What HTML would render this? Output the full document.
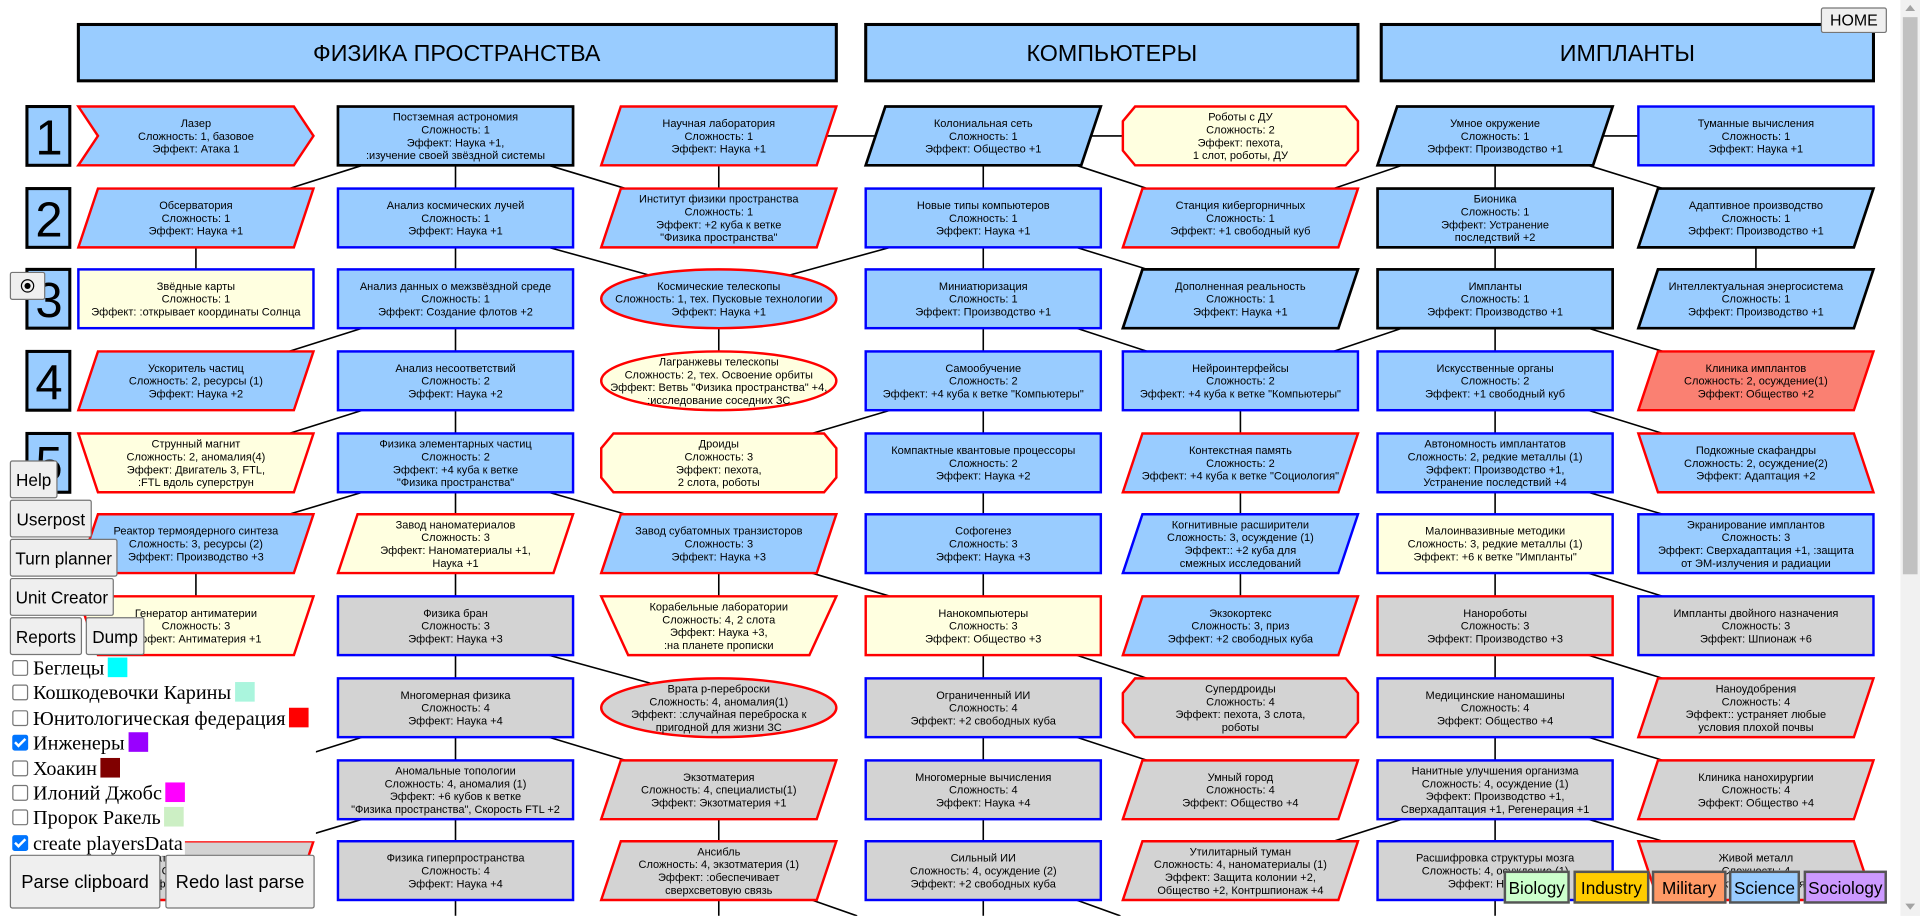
<!DOCTYPE html>
<html><head><meta charset="utf-8">
<style>
html,body{margin:0;padding:0;width:1920px;height:916px;overflow:hidden;background:#fff}
#w{position:absolute;left:0;top:0;width:1568px;height:748px;transform:scale(1.22449);transform-origin:0 0}
svg{position:absolute;left:0;top:0}
svg text{font-family:"Liberation Sans",sans-serif;font-size:9px;text-anchor:middle;fill:#000}
svg text.h{font-size:19px}
svg text.n{font-size:40px}
.b{fill:#99ccff}.c{fill:#ffffe0}.g{fill:#d3d3d3}.s{fill:#fa8072}
.R{stroke:#f00;stroke-width:2}.B{stroke:#00f;stroke-width:2}.K{stroke:#000;stroke-width:2.2}
line{stroke:#000;stroke-width:1.3}
.btn{position:absolute;background:#efefef;border:1px solid #767676;border-radius:2px;font-family:"Liberation Sans",sans-serif;font-size:14px;color:#000;box-sizing:border-box;display:flex;align-items:center;justify-content:center}
.cb{position:absolute;left:10px;font-family:"Liberation Serif",serif;font-size:16.5px;height:20px;line-height:20px;white-space:nowrap}
.cb i{display:inline-block;width:11px;height:11px;border:1px solid #767676;border-radius:2px;vertical-align:-1px;margin-right:4px;background:#fff}
.cb i.k{background:#0075ff;border-color:#0075ff;position:relative}
.cb i.k:after{content:"";position:absolute;left:3px;top:0px;width:3px;height:7px;border:solid #fff;border-width:0 2px 2px 0;transform:rotate(45deg)}
.cb u{display:inline-block;width:16px;height:16px;vertical-align:-2px;margin-left:3px}
.cat{position:absolute;top:711px;height:27px;border:2px solid #555;box-sizing:border-box;font-family:"Liberation Sans",sans-serif;font-size:14px;display:flex;align-items:center;justify-content:center}
</style></head><body><div id="w">
<svg width="1568" height="748" viewBox="0 0 1568 748">
<rect x="64" y="20" width="619" height="46" class="b" stroke="#000" stroke-width="2.5"/>
<text class="h" x="373" y="50">ФИЗИКА ПРОСТРАНСТВА</text>
<rect x="707" y="20" width="402" height="46" class="b" stroke="#000" stroke-width="2.5"/>
<text class="h" x="908" y="50">КОМПЬЮТЕРЫ</text>
<rect x="1128" y="20" width="402" height="46" class="b" stroke="#000" stroke-width="2.5"/>
<text class="h" x="1329" y="50">ИМПЛАНТЫ</text>
<rect x="22" y="87" width="35" height="48" class="b" stroke="#000" stroke-width="2.5"/><text class="n" x="40" y="126">1</text>
<rect x="22" y="154" width="35" height="48" class="b" stroke="#000" stroke-width="2.5"/><text class="n" x="40" y="193">2</text>
<rect x="22" y="220" width="35" height="48" class="b" stroke="#000" stroke-width="2.5"/><text class="n" x="40" y="259">3</text>
<rect x="22" y="287" width="35" height="48" class="b" stroke="#000" stroke-width="2.5"/><text class="n" x="40" y="326">4</text>
<rect x="22" y="354" width="35" height="48" class="b" stroke="#000" stroke-width="2.5"/><text class="n" x="40" y="393">5</text>
<g>
<line x1="160" y1="202" x2="160" y2="220"/><line x1="160" y1="468" x2="160" y2="487"/>
<line x1="372" y1="135" x2="372" y2="154"/><line x1="372" y1="202" x2="372" y2="220"/><line x1="372" y1="268" x2="372" y2="287"/><line x1="372" y1="335" x2="372" y2="354"/><line x1="372" y1="402" x2="372" y2="420"/><line x1="372" y1="468" x2="372" y2="487"/><line x1="372" y1="535" x2="372" y2="554"/><line x1="372" y1="602" x2="372" y2="621"/><line x1="372" y1="669" x2="372" y2="687"/><line x1="372" y1="735" x2="372" y2="748"/>
<line x1="587" y1="135" x2="587" y2="154"/><line x1="587" y1="268" x2="587" y2="287"/><line x1="587" y1="468" x2="587" y2="487"/><line x1="587" y1="669" x2="587" y2="687"/><line x1="587" y1="735" x2="587" y2="748"/>
<line x1="803" y1="135" x2="803" y2="154"/><line x1="803" y1="202" x2="803" y2="220"/><line x1="803" y1="268" x2="803" y2="287"/><line x1="803" y1="335" x2="803" y2="354"/><line x1="803" y1="402" x2="803" y2="420"/><line x1="803" y1="468" x2="803" y2="487"/><line x1="803" y1="535" x2="803" y2="554"/><line x1="803" y1="602" x2="803" y2="621"/><line x1="803" y1="669" x2="803" y2="687"/><line x1="803" y1="735" x2="803" y2="748"/>
<line x1="1013" y1="335" x2="1013" y2="354"/><line x1="1013" y1="402" x2="1013" y2="420"/><line x1="1013" y1="468" x2="1013" y2="487"/>
<line x1="1221" y1="135" x2="1221" y2="154"/><line x1="1221" y1="202" x2="1221" y2="220"/><line x1="1221" y1="268" x2="1221" y2="287"/><line x1="1221" y1="335" x2="1221" y2="354"/><line x1="1221" y1="402" x2="1221" y2="420"/><line x1="1221" y1="468" x2="1221" y2="487"/><line x1="1221" y1="535" x2="1221" y2="554"/><line x1="1221" y1="602" x2="1221" y2="621"/><line x1="1221" y1="669" x2="1221" y2="687"/><line x1="1221" y1="735" x2="1221" y2="748"/>
<line x1="1434" y1="202" x2="1434" y2="220"/>
<line x1="675" y1="111" x2="715" y2="111"/><line x1="891" y1="111" x2="917" y2="111"/><line x1="1309" y1="111" x2="1338" y2="111"/>
<line x1="296" y1="135" x2="236" y2="154"/><line x1="448" y1="135" x2="511" y2="154"/>
<line x1="448" y1="202" x2="535" y2="226"/><line x1="727" y1="202" x2="640" y2="226"/>
<line x1="296" y1="268" x2="236" y2="287"/><line x1="296" y1="335" x2="236" y2="354"/><line x1="296" y1="402" x2="236" y2="420"/><line x1="448" y1="402" x2="511" y2="420"/>
<line x1="727" y1="335" x2="663" y2="354"/><line x1="663" y1="468" x2="727" y2="487"/>
<line x1="448" y1="535" x2="535" y2="559"/><line x1="296" y1="602" x2="236" y2="621"/><line x1="448" y1="602" x2="511" y2="621"/><line x1="296" y1="669" x2="236" y2="687"/>
<line x1="663" y1="735" x2="700" y2="748"/>
<line x1="879" y1="135" x2="937" y2="154"/><line x1="879" y1="202" x2="937" y2="220"/><line x1="879" y1="268" x2="937" y2="287"/><line x1="879" y1="535" x2="937" y2="554"/><line x1="879" y1="602" x2="937" y2="621"/><line x1="879" y1="735" x2="915" y2="748"/>
<line x1="1145" y1="135" x2="1089" y2="154"/><line x1="1297" y1="135" x2="1358" y2="154"/>
<line x1="1145" y1="268" x2="1089" y2="287"/><line x1="1297" y1="268" x2="1358" y2="287"/>
<line x1="1297" y1="335" x2="1358" y2="354"/><line x1="1297" y1="402" x2="1358" y2="420"/><line x1="1297" y1="468" x2="1358" y2="487"/><line x1="1297" y1="535" x2="1358" y2="554"/><line x1="1297" y1="602" x2="1358" y2="621"/><line x1="1297" y1="669" x2="1358" y2="687"/>
<line x1="1145" y1="669" x2="1089" y2="687"/>
</g>
<polygon points="64,87 240,87 256,111 240,135 64,135 80,111" class="b R"/>
<text x="160" y="103.7"><tspan x="160">Лазер</tspan><tspan x="160" dy="10.5">Сложность: 1, базовое</tspan><tspan x="160" dy="10.5">Эффект: Атака 1</tspan></text>
<polygon points="80,154 256,154 240,202 64,202" class="b R"/>
<text x="160" y="170.7"><tspan x="160">Обсерватория</tspan><tspan x="160" dy="10.5">Сложность: 1</tspan><tspan x="160" dy="10.5">Эффект: Наука +1</tspan></text>
<rect x="64" y="220" width="192" height="48" class="c B"/>
<text x="160" y="236.7"><tspan x="160">Звёдные карты</tspan><tspan x="160" dy="10.5">Сложность: 1</tspan><tspan x="160" dy="10.5">Эффект: :открывает координаты Солнца</tspan></text>
<polygon points="80,287 256,287 240,335 64,335" class="b R"/>
<text x="160" y="303.7"><tspan x="160">Ускоритель частиц</tspan><tspan x="160" dy="10.5">Сложность: 2, ресурсы (1)</tspan><tspan x="160" dy="10.5">Эффект: Наука +2</tspan></text>
<polygon points="64,354 256,354 240,402 80,402" class="c R"/>
<text x="160" y="365.5"><tspan x="160">Струнный магнит</tspan><tspan x="160" dy="10.5">Сложность: 2, аномалия(4)</tspan><tspan x="160" dy="10.5">Эффект: Двигатель 3, FTL,</tspan><tspan x="160" dy="10.5">:FTL вдоль суперструн</tspan></text>
<polygon points="80,420 256,420 240,468 64,468" class="b R"/>
<text x="160" y="436.7"><tspan x="160">Реактор термоядерного синтеза</tspan><tspan x="160" dy="10.5">Сложность: 3, ресурсы (2)</tspan><tspan x="160" dy="10.5">Эффект: Производство +3</tspan></text>
<polygon points="64,487 256,487 240,535 80,535" class="c R"/>
<text x="160" y="503.7"><tspan x="160">Генератор антиматерии</tspan><tspan x="160" dy="10.5">Сложность: 3</tspan><tspan x="160" dy="10.5">Эффект: Антиматерия +1</tspan></text>
<polygon points="80,687 256,687 240,735 64,735" class="g R"/>
<text x="160" y="703.7"><tspan x="160">Сжатие пространства</tspan><tspan x="160" dy="10.5">Сложность: 4</tspan><tspan x="160" dy="10.5">Эффект: Наука +4</tspan></text>
<rect x="276" y="87" width="192" height="48" class="b K"/>
<text x="372" y="98.5"><tspan x="372">Постземная астрономия</tspan><tspan x="372" dy="10.5">Сложность: 1</tspan><tspan x="372" dy="10.5">Эффект: Наука +1,</tspan><tspan x="372" dy="10.5">:изучение своей звёздной системы</tspan></text>
<rect x="276" y="154" width="192" height="48" class="b B"/>
<text x="372" y="170.7"><tspan x="372">Анализ космических лучей</tspan><tspan x="372" dy="10.5">Сложность: 1</tspan><tspan x="372" dy="10.5">Эффект: Наука +1</tspan></text>
<rect x="276" y="220" width="192" height="48" class="b B"/>
<text x="372" y="236.7"><tspan x="372">Анализ данных о межзвёздной среде</tspan><tspan x="372" dy="10.5">Сложность: 1</tspan><tspan x="372" dy="10.5">Эффект: Создание флотов +2</tspan></text>
<rect x="276" y="287" width="192" height="48" class="b B"/>
<text x="372" y="303.7"><tspan x="372">Анализ несоответствий</tspan><tspan x="372" dy="10.5">Сложность: 2</tspan><tspan x="372" dy="10.5">Эффект: Наука +2</tspan></text>
<rect x="276" y="354" width="192" height="48" class="b B"/>
<text x="372" y="365.5"><tspan x="372">Физика элементарных частиц</tspan><tspan x="372" dy="10.5">Сложность: 2</tspan><tspan x="372" dy="10.5">Эффект: +4 куба к ветке</tspan><tspan x="372" dy="10.5">"Физика пространства"</tspan></text>
<polygon points="292,420 468,420 452,468 276,468" class="c R"/>
<text x="372" y="431.5"><tspan x="372">Завод наноматериалов</tspan><tspan x="372" dy="10.5">Сложность: 3</tspan><tspan x="372" dy="10.5">Эффект: Наноматериалы +1,</tspan><tspan x="372" dy="10.5">Наука +1</tspan></text>
<rect x="276" y="487" width="192" height="48" class="g B"/>
<text x="372" y="503.7"><tspan x="372">Физика бран</tspan><tspan x="372" dy="10.5">Сложность: 3</tspan><tspan x="372" dy="10.5">Эффект: Наука +3</tspan></text>
<rect x="276" y="554" width="192" height="48" class="g B"/>
<text x="372" y="570.7"><tspan x="372">Многомерная физика</tspan><tspan x="372" dy="10.5">Сложность: 4</tspan><tspan x="372" dy="10.5">Эффект: Наука +4</tspan></text>
<rect x="276" y="621" width="192" height="48" class="g B"/>
<text x="372" y="632.5"><tspan x="372">Аномальные топологии</tspan><tspan x="372" dy="10.5">Сложность: 4, аномалия (1)</tspan><tspan x="372" dy="10.5">Эффект: +6 кубов к ветке</tspan><tspan x="372" dy="10.5">"Физика пространства", Скорость FTL +2</tspan></text>
<rect x="276" y="687" width="192" height="48" class="g B"/>
<text x="372" y="703.7"><tspan x="372">Физика гиперпространства</tspan><tspan x="372" dy="10.5">Сложность: 4</tspan><tspan x="372" dy="10.5">Эффект: Наука +4</tspan></text>
<polygon points="507,87 683,87 667,135 491,135" class="b R"/>
<text x="587" y="103.7"><tspan x="587">Научная лаборатория</tspan><tspan x="587" dy="10.5">Сложность: 1</tspan><tspan x="587" dy="10.5">Эффект: Наука +1</tspan></text>
<polygon points="507,154 683,154 667,202 491,202" class="b R"/>
<text x="587" y="165.5"><tspan x="587">Институт физики пространства</tspan><tspan x="587" dy="10.5">Сложность: 1</tspan><tspan x="587" dy="10.5">Эффект: +2 куба к ветке</tspan><tspan x="587" dy="10.5">"Физика пространства"</tspan></text>
<ellipse cx="587" cy="244" rx="96" ry="24" class="b R"/>
<text x="587" y="236.7"><tspan x="587">Космические телескопы</tspan><tspan x="587" dy="10.5">Сложность: 1, тех. Пусковые технологии</tspan><tspan x="587" dy="10.5">Эффект: Наука +1</tspan></text>
<ellipse cx="587" cy="311" rx="96" ry="24" class="c R"/>
<text x="587" y="298.5"><tspan x="587">Лагранжевы телескопы</tspan><tspan x="587" dy="10.5">Сложность: 2, тех. Освоение орбиты</tspan><tspan x="587" dy="10.5">Эффект: Ветвь "Физика пространства" +4,</tspan><tspan x="587" dy="10.5">:исследование соседних ЗС</tspan></text>
<polygon points="501,354 673,354 683,366 683,390 673,402 501,402 491,390 491,366" class="c R"/>
<text x="587" y="365.5"><tspan x="587">Дроиды</tspan><tspan x="587" dy="10.5">Сложность: 3</tspan><tspan x="587" dy="10.5">Эффект: пехота,</tspan><tspan x="587" dy="10.5">2 слота, роботы</tspan></text>
<polygon points="507,420 683,420 667,468 491,468" class="b R"/>
<text x="587" y="436.7"><tspan x="587">Завод субатомных транзисторов</tspan><tspan x="587" dy="10.5">Сложность: 3</tspan><tspan x="587" dy="10.5">Эффект: Наука +3</tspan></text>
<polygon points="491,487 683,487 661,535 513,535" class="c R"/>
<text x="587" y="498.5"><tspan x="587">Корабельные лаборатории</tspan><tspan x="587" dy="10.5">Сложность: 4, 2 слота</tspan><tspan x="587" dy="10.5">Эффект: Наука +3,</tspan><tspan x="587" dy="10.5">:на планете прописки</tspan></text>
<ellipse cx="587" cy="578" rx="96" ry="24" class="g R"/>
<text x="587" y="565.5"><tspan x="587">Врата р-переброски</tspan><tspan x="587" dy="10.5">Сложность: 4, аномалия(1)</tspan><tspan x="587" dy="10.5">Эффект: :случайная переброска к</tspan><tspan x="587" dy="10.5">пригодной для жизни ЗС</tspan></text>
<polygon points="507,621 683,621 667,669 491,669" class="g R"/>
<text x="587" y="637.7"><tspan x="587">Экзотматерия</tspan><tspan x="587" dy="10.5">Сложность: 4, специалисты(1)</tspan><tspan x="587" dy="10.5">Эффект: Экзотматерия +1</tspan></text>
<polygon points="507,687 683,687 667,735 491,735" class="g R"/>
<text x="587" y="698.5"><tspan x="587">Ансибль</tspan><tspan x="587" dy="10.5">Сложность: 4, экзотматерия (1)</tspan><tspan x="587" dy="10.5">Эффект: :обеспечивает</tspan><tspan x="587" dy="10.5">сверхсветовую связь</tspan></text>
<polygon points="723,87 899,87 883,135 707,135" class="b K"/>
<text x="803" y="103.7"><tspan x="803">Колониальная сеть</tspan><tspan x="803" dy="10.5">Сложность: 1</tspan><tspan x="803" dy="10.5">Эффект: Общество +1</tspan></text>
<rect x="707" y="154" width="192" height="48" class="b B"/>
<text x="803" y="170.7"><tspan x="803">Новые типы компьютеров</tspan><tspan x="803" dy="10.5">Сложность: 1</tspan><tspan x="803" dy="10.5">Эффект: Наука +1</tspan></text>
<rect x="707" y="220" width="192" height="48" class="b B"/>
<text x="803" y="236.7"><tspan x="803">Миниатюризация</tspan><tspan x="803" dy="10.5">Сложность: 1</tspan><tspan x="803" dy="10.5">Эффект: Производство +1</tspan></text>
<rect x="707" y="287" width="192" height="48" class="b B"/>
<text x="803" y="303.7"><tspan x="803">Самообучение</tspan><tspan x="803" dy="10.5">Сложность: 2</tspan><tspan x="803" dy="10.5">Эффект: +4 куба к ветке "Компьютеры"</tspan></text>
<rect x="707" y="354" width="192" height="48" class="b B"/>
<text x="803" y="370.7"><tspan x="803">Компактные квантовые процессоры</tspan><tspan x="803" dy="10.5">Сложность: 2</tspan><tspan x="803" dy="10.5">Эффект: Наука +2</tspan></text>
<rect x="707" y="420" width="192" height="48" class="b B"/>
<text x="803" y="436.7"><tspan x="803">Софогенез</tspan><tspan x="803" dy="10.5">Сложность: 3</tspan><tspan x="803" dy="10.5">Эффект: Наука +3</tspan></text>
<rect x="707" y="487" width="192" height="48" class="c R"/>
<text x="803" y="503.7"><tspan x="803">Нанокомпьютеры</tspan><tspan x="803" dy="10.5">Сложность: 3</tspan><tspan x="803" dy="10.5">Эффект: Общество +3</tspan></text>
<rect x="707" y="554" width="192" height="48" class="g B"/>
<text x="803" y="570.7"><tspan x="803">Ограниченный ИИ</tspan><tspan x="803" dy="10.5">Сложность: 4</tspan><tspan x="803" dy="10.5">Эффект: +2 свободных куба</tspan></text>
<rect x="707" y="621" width="192" height="48" class="g B"/>
<text x="803" y="637.7"><tspan x="803">Многомерные вычисления</tspan><tspan x="803" dy="10.5">Сложность: 4</tspan><tspan x="803" dy="10.5">Эффект: Наука +4</tspan></text>
<rect x="707" y="687" width="192" height="48" class="g B"/>
<text x="803" y="703.7"><tspan x="803">Сильный ИИ</tspan><tspan x="803" dy="10.5">Сложность: 4, осуждение (2)</tspan><tspan x="803" dy="10.5">Эффект: +2 свободных куба</tspan></text>
<polygon points="927,87 1099,87 1109,99 1109,123 1099,135 927,135 917,123 917,99" class="c R"/>
<text x="1013" y="98.5"><tspan x="1013">Роботы с ДУ</tspan><tspan x="1013" dy="10.5">Сложность: 2</tspan><tspan x="1013" dy="10.5">Эффект: пехота,</tspan><tspan x="1013" dy="10.5">1 слот, роботы, ДУ</tspan></text>
<polygon points="933,154 1109,154 1093,202 917,202" class="b R"/>
<text x="1013" y="170.7"><tspan x="1013">Станция кибергорничных</tspan><tspan x="1013" dy="10.5">Сложность: 1</tspan><tspan x="1013" dy="10.5">Эффект: +1 свободный куб</tspan></text>
<polygon points="933,220 1109,220 1093,268 917,268" class="b K"/>
<text x="1013" y="236.7"><tspan x="1013">Дополненная реальность</tspan><tspan x="1013" dy="10.5">Сложность: 1</tspan><tspan x="1013" dy="10.5">Эффект: Наука +1</tspan></text>
<rect x="917" y="287" width="192" height="48" class="b B"/>
<text x="1013" y="303.7"><tspan x="1013">Нейроинтерфейсы</tspan><tspan x="1013" dy="10.5">Сложность: 2</tspan><tspan x="1013" dy="10.5">Эффект: +4 куба к ветке "Компьютеры"</tspan></text>
<polygon points="933,354 1109,354 1093,402 917,402" class="b R"/>
<text x="1013" y="370.7"><tspan x="1013">Контекстная память</tspan><tspan x="1013" dy="10.5">Сложность: 2</tspan><tspan x="1013" dy="10.5">Эффект: +4 куба к ветке "Социология"</tspan></text>
<polygon points="933,420 1109,420 1093,468 917,468" class="b B"/>
<text x="1013" y="431.5"><tspan x="1013">Когнитивные расширители</tspan><tspan x="1013" dy="10.5">Сложность: 3, осуждение (1)</tspan><tspan x="1013" dy="10.5">Эффект:: +2 куба для</tspan><tspan x="1013" dy="10.5">смежных исследований</tspan></text>
<polygon points="933,487 1109,487 1093,535 917,535" class="b R"/>
<text x="1013" y="503.7"><tspan x="1013">Экзокортекс</tspan><tspan x="1013" dy="10.5">Сложность: 3, приз</tspan><tspan x="1013" dy="10.5">Эффект: +2 свободных куба</tspan></text>
<polygon points="927,554 1099,554 1109,566 1109,590 1099,602 927,602 917,590 917,566" class="g R"/>
<text x="1013" y="565.5"><tspan x="1013">Супердроиды</tspan><tspan x="1013" dy="10.5">Сложность: 4</tspan><tspan x="1013" dy="10.5">Эффект: пехота, 3 слота,</tspan><tspan x="1013" dy="10.5">роботы</tspan></text>
<polygon points="933,621 1109,621 1093,669 917,669" class="g R"/>
<text x="1013" y="637.7"><tspan x="1013">Умный город</tspan><tspan x="1013" dy="10.5">Сложность: 4</tspan><tspan x="1013" dy="10.5">Эффект: Общество +4</tspan></text>
<polygon points="933,687 1109,687 1093,735 917,735" class="g R"/>
<text x="1013" y="698.5"><tspan x="1013">Утилитарный туман</tspan><tspan x="1013" dy="10.5">Сложность: 4, наноматериалы (1)</tspan><tspan x="1013" dy="10.5">Эффект: Защита колонии +2,</tspan><tspan x="1013" dy="10.5">Общество +2, Контршпионаж +4</tspan></text>
<polygon points="1141,87 1317,87 1301,135 1125,135" class="b K"/>
<text x="1221" y="103.7"><tspan x="1221">Умное окружение</tspan><tspan x="1221" dy="10.5">Сложность: 1</tspan><tspan x="1221" dy="10.5">Эффект: Производство +1</tspan></text>
<rect x="1125" y="154" width="192" height="48" class="b K"/>
<text x="1221" y="165.5"><tspan x="1221">Бионика</tspan><tspan x="1221" dy="10.5">Сложность: 1</tspan><tspan x="1221" dy="10.5">Эффект: Устранение</tspan><tspan x="1221" dy="10.5">последствий +2</tspan></text>
<rect x="1125" y="220" width="192" height="48" class="b K"/>
<text x="1221" y="236.7"><tspan x="1221">Импланты</tspan><tspan x="1221" dy="10.5">Сложность: 1</tspan><tspan x="1221" dy="10.5">Эффект: Производство +1</tspan></text>
<rect x="1125" y="287" width="192" height="48" class="b B"/>
<text x="1221" y="303.7"><tspan x="1221">Искусственные органы</tspan><tspan x="1221" dy="10.5">Сложность: 2</tspan><tspan x="1221" dy="10.5">Эффект: +1 свободный куб</tspan></text>
<rect x="1125" y="354" width="192" height="48" class="b B"/>
<text x="1221" y="365.5"><tspan x="1221">Автономность имплантатов</tspan><tspan x="1221" dy="10.5">Сложность: 2, редкие металлы (1)</tspan><tspan x="1221" dy="10.5">Эффект: Производство +1,</tspan><tspan x="1221" dy="10.5">Устранение последствий +4</tspan></text>
<rect x="1125" y="420" width="192" height="48" class="c B"/>
<text x="1221" y="436.7"><tspan x="1221">Малоинвазивные методики</tspan><tspan x="1221" dy="10.5">Сложность: 3, редкие металлы (1)</tspan><tspan x="1221" dy="10.5">Эффект: +6 к ветке "Импланты"</tspan></text>
<rect x="1125" y="487" width="192" height="48" class="g R"/>
<text x="1221" y="503.7"><tspan x="1221">Нанороботы</tspan><tspan x="1221" dy="10.5">Сложность: 3</tspan><tspan x="1221" dy="10.5">Эффект: Производство +3</tspan></text>
<rect x="1125" y="554" width="192" height="48" class="g B"/>
<text x="1221" y="570.7"><tspan x="1221">Медицинские наномашины</tspan><tspan x="1221" dy="10.5">Сложность: 4</tspan><tspan x="1221" dy="10.5">Эффект: Общество +4</tspan></text>
<rect x="1125" y="621" width="192" height="48" class="g B"/>
<text x="1221" y="632.5"><tspan x="1221">Нанитные улучшения организма</tspan><tspan x="1221" dy="10.5">Сложность: 4, осуждение (1)</tspan><tspan x="1221" dy="10.5">Эффект: Производство +1,</tspan><tspan x="1221" dy="10.5">Сверхадаптация +1, Регенерация +1</tspan></text>
<rect x="1125" y="687" width="192" height="48" class="g B"/>
<text x="1221" y="703.7"><tspan x="1221">Расшифровка структуры мозга</tspan><tspan x="1221" dy="10.5">Сложность: 4, осуждение (1)</tspan><tspan x="1221" dy="10.5">Эффект: Наука +4</tspan></text>
<rect x="1338" y="87" width="192" height="48" class="b B"/>
<text x="1434" y="103.7"><tspan x="1434">Туманные вычисления</tspan><tspan x="1434" dy="10.5">Сложность: 1</tspan><tspan x="1434" dy="10.5">Эффект: Наука +1</tspan></text>
<polygon points="1354,154 1530,154 1514,202 1338,202" class="b K"/>
<text x="1434" y="170.7"><tspan x="1434">Адаптивное производство</tspan><tspan x="1434" dy="10.5">Сложность: 1</tspan><tspan x="1434" dy="10.5">Эффект: Производство +1</tspan></text>
<polygon points="1354,220 1530,220 1514,268 1338,268" class="b K"/>
<text x="1434" y="236.7"><tspan x="1434">Интеллектуальная энергосистема</tspan><tspan x="1434" dy="10.5">Сложность: 1</tspan><tspan x="1434" dy="10.5">Эффект: Производство +1</tspan></text>
<polygon points="1354,287 1530,287 1514,335 1338,335" class="s R"/>
<text x="1434" y="303.7"><tspan x="1434">Клиника имплантов</tspan><tspan x="1434" dy="10.5">Сложность: 2, осуждение(1)</tspan><tspan x="1434" dy="10.5">Эффект: Общество +2</tspan></text>
<polygon points="1338,354 1514,354 1530,402 1354,402" class="b R"/>
<text x="1434" y="370.7"><tspan x="1434">Подкожные скафандры</tspan><tspan x="1434" dy="10.5">Сложность: 2, осуждение(2)</tspan><tspan x="1434" dy="10.5">Эффект: Адаптация +2</tspan></text>
<rect x="1338" y="420" width="192" height="48" class="b B"/>
<text x="1434" y="431.5"><tspan x="1434">Экранирование имплантов</tspan><tspan x="1434" dy="10.5">Сложность: 3</tspan><tspan x="1434" dy="10.5">Эффект: Сверхадаптация +1, :защита</tspan><tspan x="1434" dy="10.5">от ЭМ-излучения и радиации</tspan></text>
<rect x="1338" y="487" width="192" height="48" class="g B"/>
<text x="1434" y="503.7"><tspan x="1434">Импланты двойного назначения</tspan><tspan x="1434" dy="10.5">Сложность: 3</tspan><tspan x="1434" dy="10.5">Эффект: Шпионаж +6</tspan></text>
<polygon points="1354,554 1530,554 1514,602 1338,602" class="g R"/>
<text x="1434" y="565.5"><tspan x="1434">Наноудобрения</tspan><tspan x="1434" dy="10.5">Сложность: 4</tspan><tspan x="1434" dy="10.5">Эффект:: устраняет любые</tspan><tspan x="1434" dy="10.5">условия плохой почвы</tspan></text>
<polygon points="1354,621 1530,621 1514,669 1338,669" class="g R"/>
<text x="1434" y="637.7"><tspan x="1434">Клиника нанохирургии</tspan><tspan x="1434" dy="10.5">Сложность: 4</tspan><tspan x="1434" dy="10.5">Эффект: Общество +4</tspan></text>
<polygon points="1338,687 1514,687 1530,735 1354,735" class="g R"/>
<text x="1434" y="703.7"><tspan x="1434">Живой металл</tspan><tspan x="1434" dy="10.5">Сложность: 4</tspan><tspan x="1434" dy="10.5">Эффект: Регенерация +2</tspan></text>
</svg>
<div class="btn" style="left:1487px;top:6px;width:54px;height:21px;font-size:13px">HOME</div>
<div class="btn" style="left:8px;top:222px;width:29px;height:23px;"><span style="display:inline-block;width:9px;height:9px;border:1.5px solid #000;border-radius:50%;position:relative"><span style="position:absolute;left:2px;top:2px;width:5px;height:5px;border-radius:50%;background:#000"></span></span></div>
<div class="btn" style="left:8px;top:376px;width:39px;height:31px">Help</div>
<div class="btn" style="left:8px;top:408px;width:67px;height:31px">Userpost</div>
<div class="btn" style="left:8px;top:440px;width:88px;height:31px">Turn planner</div>
<div class="btn" style="left:8px;top:472px;width:85px;height:31px">Unit Creator</div>
<div class="btn" style="left:8px;top:504px;width:59px;height:31px">Reports</div>
<div class="btn" style="left:70px;top:504px;width:48px;height:31px">Dump</div>
<div style="position:absolute;left:0;top:536px;width:258px;height:151px;background:#fff"></div>
<div class="cb" style="top:536px"><i></i>Беглецы<u style="background:#00ffff"></u></div>
<div class="cb" style="top:556px"><i></i>Кошкодевочки Карины<u style="background:#aaf5dd"></u></div>
<div class="cb" style="top:577px"><i></i>Юнитологическая федерация<u style="background:#ff0000"></u></div>
<div class="cb" style="top:597px"><i class="k"></i>Инженеры<u style="background:#9900ff"></u></div>
<div class="cb" style="top:618px"><i></i>Хоакин<u style="background:#800000"></u></div>
<div class="cb" style="top:638px"><i></i>Илоний Джобс<u style="background:#ff00ff"></u></div>
<div class="cb" style="top:658px"><i></i>Пророк Ракель<u style="background:#ccefc4"></u></div>
<div class="cb" style="top:679px;background:#fff;padding-right:2px"><i class="k"></i>create playersData</div>
<div class="btn" style="left:8px;top:698px;width:123px;height:44px;font-size:15px">Parse clipboard</div>
<div class="btn" style="left:135px;top:698px;width:122px;height:44px;font-size:15px">Redo last parse</div>
<div class="cat" style="left:1228px;width:54px;background:#ccffcc">Biology</div>
<div class="cat" style="left:1285px;width:62px;background:#ffcc00">Industry</div>
<div class="cat" style="left:1349px;width:61px;background:#ff9966">Military</div>
<div class="cat" style="left:1412px;width:58px;background:#99ccff">Science</div>
<div class="cat" style="left:1473px;width:68px;background:#cc99ff">Sociology</div>
<div style="position:absolute;left:1552px;top:0;width:16px;height:748px;background:#f1f1f1"></div>
<div style="position:absolute;left:1554px;top:14px;width:12px;height:455px;background:#c1c1c1"></div>
<div style="position:absolute;left:1556px;top:4px;width:0;height:0;border-left:4px solid transparent;border-right:4px solid transparent;border-bottom:5px solid #a3a3a3"></div>
<div style="position:absolute;left:1556px;top:738px;width:0;height:0;border-left:4px solid transparent;border-right:4px solid transparent;border-top:5px solid #a3a3a3"></div>
</div></body></html>
